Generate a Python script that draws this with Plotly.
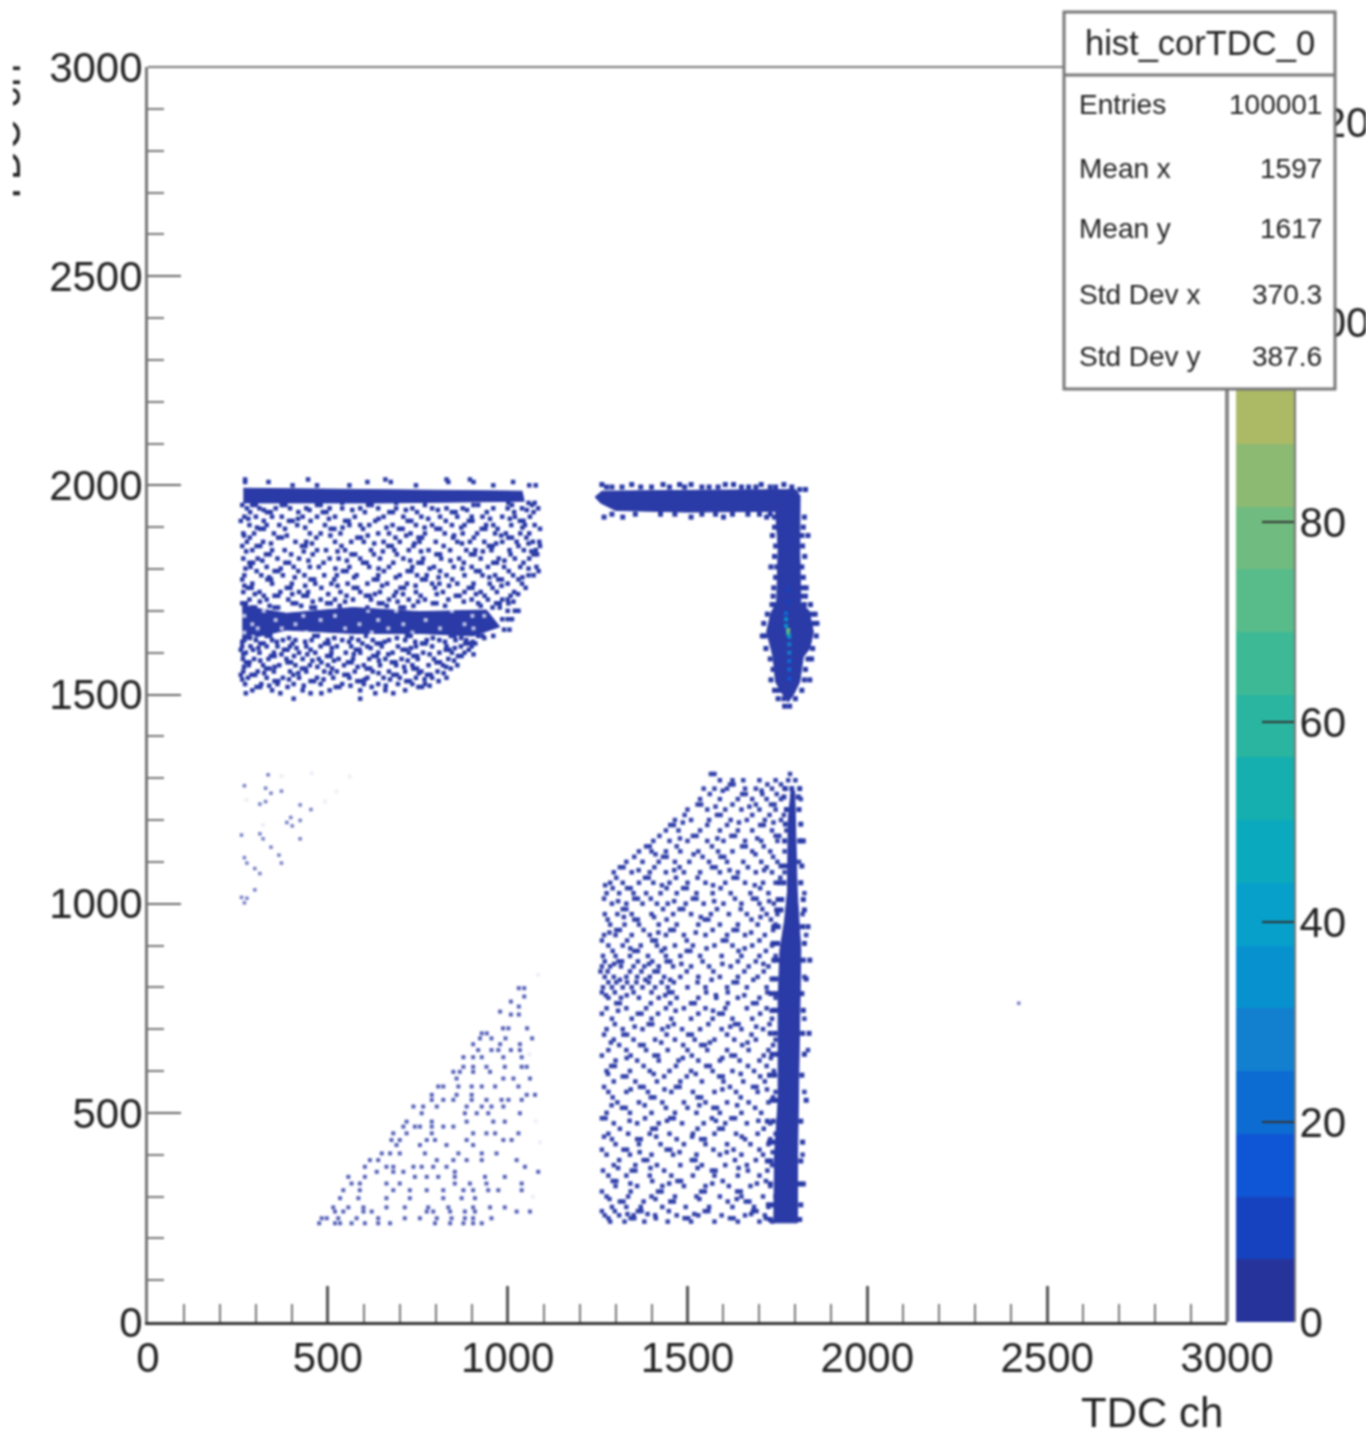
import plotly.graph_objects as go

W, H = 1366, 1432
def px(v): return v / W
def py(v): return 1 - v / H

x_ticks = [0, 500, 1000, 1500, 2000, 2500, 3000]
y_ticks = [0, 500, 1000, 1500, 2000, 2500, 3000]
z_ticks = [0, 20, 40, 60, 80, 100, 120]
cbar_edges = [0, 6.3, 12.5, 18.8, 25.1, 31.4, 37.6, 43.9, 50.2, 56.5, 62.7, 69, 75.3, 81.5, 87.8, 94.1, 100.4, 106.6, 112.9, 119.2, 125.5]
palette = ["#26339b", "#1642c0", "#0f56d6", "#0c6cd2", "#1280cf", "#0792cf", "#06a0cb", "#0ba9bd", "#14afae", "#2ab5a0",
           "#3eb995", "#58bb8a", "#70bb7f", "#8dba73", "#acba66", "#cab557", "#e2b545", "#f2c334", "#f7dc22", "#f9f70f"]

band_top_x = [265, 650, 1040, 1046, 650, 265]
band_top_y = [1993, 1990, 1986, 1962, 1958, 1958]
band_mid_x = [262, 385, 571, 756, 941, 978, 904, 756, 571, 385, 262]
band_mid_y = [1712, 1694, 1708, 1698, 1702, 1662, 1640, 1646, 1646, 1654, 1630]
corner_x = [1243, 1262, 1500, 1800, 1813, 1812, 1815, 1838, 1850, 1840, 1822, 1812, 1795, 1780, 1765, 1745, 1738, 1728, 1720, 1732, 1748, 1752, 1745, 1500, 1300, 1258, 1243]
corner_y = [1972, 1986, 1988, 1990, 1975, 1850, 1720, 1700, 1650, 1610, 1590, 1530, 1500, 1482, 1500, 1530, 1590, 1620, 1650, 1695, 1720, 1850, 1938, 1936, 1940, 1958, 1972]
stem_x = [1788, 1780, 1778, 1770, 1757, 1752, 1752, 1742, 1740, 1806, 1806, 1808, 1812, 1815, 1810, 1805, 1800, 1798]
stem_y = [1270, 1200, 1030, 960, 890, 770, 531, 400, 237, 237, 400, 531, 770, 890, 960, 1030, 1200, 1270]

core_x = [1780, 1780, 1774, 1774, 1774, 1780, 1780, 1783, 1783, 1783, 1783, 1783, 1783]
core_y = [1750, 1722, 1694, 1680, 1664, 1654, 1646, 1638, 1620, 1600, 1580, 1560, 1538]
core_level = [1, 1, 3, 5, 5, 12, 10, 5, 4, 4, 3, 3, 2]

band_hole_rows = [
 (1700, [322, 612, 690, 845]), (1688, [268, 432, 520, 902, 935]), (1678, [355, 480, 640, 772]), (1668, [290, 410, 588, 710, 880]),
 (1658, [305, 372, 548, 668, 812, 905]), (1648, [268, 440, 622, 735]), (1638, [292, 345]),
]
upper_left_rows = [
 (2008, [270, 335, 610, 675, 835, 905, 1015]),
 (2000, [402, 470, 560, 745, 960, 1060, 1078]),
 (1945, [275, 310, 355, 395, 440, 505, 540, 590, 640, 690, 735, 790, 830, 875, 960, 1000, 1040, 1085]),
 (1925, [268, 300, 345, 372, 430, 470, 520, 575, 655, 710, 760, 812, 860, 900, 930, 985, 1020, 1062]),
 (1905, [282, 330, 365, 415, 492, 560, 590, 615, 680, 745, 790, 845, 880, 940, 960, 1010, 1048, 1075]),
 (1885, [265, 295, 350, 450, 480, 535, 640, 670, 730, 770, 825, 875, 915, 965, 995, 1035, 1060]),
 (1865, [275, 320, 410, 440, 520, 565, 600, 655, 700, 755, 800, 860, 895, 935, 985, 1025, 1070, 1088]),
 (1845, [290, 345, 380, 470, 495, 548, 620, 685, 725, 780, 840, 885, 910, 955, 1005, 1045, 1078]),
 (1825, [265, 305, 360, 420, 505, 530, 590, 645, 710, 765, 815, 865, 925, 975, 1020, 1060]),
 (1805, [285, 330, 405, 450, 475, 560, 615, 670, 735, 795, 850, 900, 945, 990, 1035, 1080]),
 (1785, [268, 315, 375, 435, 490, 525, 580, 640, 700, 748, 775, 830, 880, 930, 965, 1015, 1058, 1072]),
 (1765, [290, 345, 400, 465, 510, 555, 610, 665, 720, 790, 810, 860, 905, 950, 1000, 1040]),
 (1745, [265, 310, 368, 420, 445, 535, 590, 645, 690, 745, 820, 880, 925, 970, 1018]),
 (1727, [282, 330, 390, 480, 520, 570, 620, 670, 725, 770, 835, 900, 945, 985, 1000]),
 (1630, [268, 300, 345, 375, 410, 455, 500, 540, 585, 625, 670, 715, 775, 810, 855, 885]),
 (1615, [262, 285, 330, 360, 395, 440, 480, 525, 565, 610, 650, 695, 745, 790, 830, 870, 900]),
 (1600, [272, 310, 350, 420, 465, 510, 550, 590, 640, 680, 725, 765, 810, 845, 880]),
 (1585, [264, 295, 335, 385, 430, 475, 530, 570, 615, 660, 705, 750, 795, 835]),
 (1570, [280, 320, 365, 410, 450, 500, 545, 600, 645, 690, 735, 780, 820, 860]),
 (1555, [265, 305, 350, 395, 440, 490, 525, 575, 625, 670, 715, 760, 805]),
 (1540, [278, 330, 375, 420, 470, 515, 560, 610, 655, 700, 745, 790, 830]),
 (1525, [270, 315, 360, 405, 480, 540, 600, 640, 695, 735, 770]),
 (1510, [290, 345, 430, 505, 590, 660, 715]),
 (1490, [405, 590]),
]
upper_left_extra_rows = [
 (1953, [262, 290, 300, 372, 382, 470, 480, 612, 622, 770, 905, 918, 1012, 1068]),
 (1936, [284, 331, 341, 418, 486, 496, 603, 671, 681, 748, 845, 855, 942, 1018, 1072]),
 (1915, [258, 322, 392, 402, 452, 548, 558, 632, 722, 732, 828, 892, 902, 1034, 1044]),
 (1896, [312, 322, 381, 508, 518, 598, 698, 708, 802, 812, 928, 938, 972, 1090]),
 (1875, [283, 362, 372, 468, 582, 592, 688, 752, 762, 848, 906, 1002, 1012, 1052]),
 (1855, [262, 302, 312, 428, 438, 538, 668, 678, 738, 822, 948, 958, 1030, 1090]),
 (1835, [328, 338, 398, 458, 566, 576, 628, 692, 802, 812, 898, 908, 1008, 1072, 1082]),
 (1815, [282, 292, 382, 392, 488, 598, 608, 682, 752, 762, 878, 960, 970, 1044]),
 (1795, [302, 352, 362, 418, 542, 552, 656, 722, 732, 812, 912, 922, 1003, 1086]),
 (1775, [262, 332, 342, 452, 462, 518, 628, 638, 762, 772, 846, 974, 984, 1030]),
 (1755, [278, 288, 386, 396, 482, 572, 582, 702, 712, 798, 892, 902, 958, 1050]),
 (1736, [322, 352, 362, 432, 442, 552, 606, 616, 684, 758, 856, 866, 936, 1008]),
 (1718, [262, 272, 402, 412, 498, 508, 642, 652, 792, 802, 918, 968, 978, 1002]),
 (1708, [288, 298, 352, 362, 454, 464, 610, 702, 712, 958, 978]),
 (1640, [330, 340, 462, 472, 606, 720, 730, 842, 852, 918, 930, 960]),
 (1622, [312, 322, 402, 492, 502, 596, 636, 646, 762, 772, 882, 892, 910]),
 (1607, [258, 292, 378, 388, 452, 578, 588, 708, 718, 828, 838, 892]),
 (1592, [342, 352, 406, 498, 508, 626, 636, 738, 748, 862, 872]),
 (1577, [272, 282, 388, 398, 482, 556, 566, 678, 688, 802, 812]),
 (1562, [328, 338, 428, 438, 512, 608, 618, 738, 748, 842]),
 (1547, [258, 288, 298, 404, 546, 556, 682, 692, 776, 786]),
 (1532, [352, 362, 452, 462, 582, 592, 718, 728, 808]),
 (1518, [302, 312, 388, 522, 532, 622, 752, 762]),
 (1503, [272, 368, 452, 482, 632, 682]),
]
upper_left_third_rows = [
 (1941, [322, 449, 568, 717, 806, 887, 1053]),
 (1920, [279, 417, 503, 641, 779, 951, 1006]),
 (1899, [303, 437, 541, 663, 769, 871, 1041]),
 (1880, [267, 386, 507, 611, 718, 851, 982]),
 (1861, [342, 456, 629, 741, 873, 968, 1058]),
 (1842, [273, 433, 527, 653, 759, 931, 1066]),
 (1820, [318, 446, 553, 729, 841, 991]),
 (1801, [271, 369, 521, 641, 783, 874, 1058]),
 (1780, [337, 408, 573, 689, 808, 949, 1041]),
 (1760, [268, 437, 527, 651, 744, 837, 983]),
 (1740, [297, 401, 501, 631, 709, 803, 912, 1029]),
 (1722, [311, 458, 548, 694, 751, 878, 1016]),
 (1712, [272, 338, 426, 533, 664, 738, 826, 925]),
 (1635, [283, 392, 518, 566, 692, 792, 871, 935]),
 (1626, [262, 358, 437, 559, 658, 743, 826, 903]),
 (1611, [307, 413, 511, 619, 731, 853]),
 (1596, [265, 371, 443, 572, 668, 783, 905]),
 (1581, [312, 457, 517, 642, 722, 851]),
 (1566, [267, 352, 471, 583, 712, 829]),
 (1551, [323, 418, 507, 641, 753, 822]),
 (1536, [262, 392, 488, 603, 673, 769]),
 (1521, [337, 433, 563, 661, 783]),
]
band_fringe_rows = [
 (2014, [270, 445, 660, 830, 895]),
 (1958, [540, 690, 1002, 1058, 1075]),
 (1655, [990, 1005]),
 (1680, [985, 1000, 1012]),
 (1700, [1000, 1020, 1030]),
]
corner_fringe_rows = [
 (2002, [1262, 1345, 1432, 1478, 1510, 1605, 1628, 1705, 1768]),
 (1996, [1275, 1290, 1318, 1370, 1400, 1450, 1492, 1540, 1560, 1585, 1650, 1670, 1690, 1730, 1745, 1790]),
 (1990, [1812, 1828]),
 (1931, [1290, 1355, 1425, 1465, 1540, 1578, 1625, 1668, 1700, 1730, 1760]),
 (1924, [1268, 1320, 1510, 1600, 1720, 1742, 1825]),
 (1900, [1742, 1822]),
 (1880, [1736, 1818, 1835]),
 (1855, [1745, 1820]),
 (1830, [1742, 1826]),
 (1805, [1732, 1748, 1818]),
 (1780, [1745, 1822]),
 (1755, [1740, 1820, 1830]),
 (1735, [1738, 1815, 1828]),
 (1715, [1735, 1745, 1825, 1842]),
 (1692, [1722, 1845, 1855]),
 (1670, [1712, 1852, 1860]),
 (1640, [1708, 1716, 1858]),
 (1610, [1718, 1848]),
 (1585, [1730, 1835, 1845]),
 (1560, [1738, 1828]),
 (1535, [1732, 1825, 1840]),
 (1510, [1742, 1755, 1818]),
 (1490, [1752, 1768, 1800]),
 (1472, [1770, 1784]),
 (1275, [1772, 1790, 1812]),
 (1255, [1768, 1808]),
 (1225, [1775, 1810]),
 (1190, [1772, 1815]),
 (1150, [1770, 1812, 1822]),
 (1090, [1760, 1772, 1818]),
 (1050, [1755, 1768, 1815]),
 (1010, [1752, 1762, 1822]),
 (985, [1748, 1760, 1825]),
 (945, [1740, 1752, 1820, 1835]),
 (905, [1738, 1750, 1825]),
 (865, [1740, 1748, 1822, 1840]),
 (820, [1735, 1746, 1830]),
 (785, [1732, 1745, 1818]),
 (745, [1738, 1746, 1822]),
 (690, [1730, 1744, 1820, 1838]),
 (640, [1735, 1748, 1825]),
 (590, [1728, 1742, 1818]),
 (530, [1735, 1745, 1830]),
 (480, [1722, 1738, 1815]),
 (430, [1728, 1738, 1820]),
 (385, [1722, 1732, 1815]),
 (330, [1730, 1812, 1822]),
 (280, [1725, 1735, 1815]),
 (245, [1730, 1812]),
]
lower_right_rows = [
 (1310, [1565, 1575, 1785]),
 (1295, [1590, 1625, 1655, 1700, 1745, 1780, 1800]),
 (1275, [1545, 1575, 1610, 1660, 1690, 1735, 1770]),
 (1250, [1535, 1590, 1640, 1680, 1720, 1760, 1815]),
 (1225, [1500, 1555, 1605, 1650, 1700, 1745, 1775]),
 (1200, [1465, 1510, 1560, 1620, 1665, 1715, 1760]),
 (1175, [1440, 1475, 1535, 1590, 1640, 1680, 1735, 1775]),
 (1150, [1405, 1450, 1500, 1555, 1600, 1660, 1705, 1750, 1815]),
 (1125, [1365, 1400, 1440, 1480, 1530, 1585, 1625, 1680, 1730, 1770]),
 (1100, [1330, 1375, 1420, 1465, 1505, 1560, 1610, 1655, 1705, 1750, 1810]),
 (1075, [1295, 1345, 1395, 1440, 1490, 1535, 1590, 1640, 1690, 1735, 1770]),
 (1050, [1285, 1320, 1365, 1405, 1450, 1500, 1550, 1605, 1660, 1710, 1745]),
 (1025, [1275, 1310, 1350, 1385, 1425, 1470, 1525, 1570, 1620, 1675, 1725, 1825]),
 (1000, [1290, 1330, 1375, 1415, 1445, 1495, 1545, 1600, 1650, 1700, 1740]),
 (975, [1270, 1305, 1345, 1400, 1460, 1510, 1565, 1615, 1665, 1720, 1750, 1820]),
 (950, [1285, 1325, 1365, 1420, 1470, 1530, 1590, 1640, 1695, 1745]),
 (925, [1268, 1300, 1345, 1395, 1440, 1490, 1550, 1610, 1660, 1715, 1830]),
 (900, [1280, 1320, 1370, 1415, 1465, 1515, 1575, 1625, 1680, 1735]),
 (875, [1265, 1300, 1340, 1390, 1440, 1480, 1535, 1595, 1650, 1700, 1745]),
 (850, [1262, 1285, 1315, 1350, 1380, 1420, 1460, 1510, 1560, 1620, 1670, 1725]),
 (825, [1270, 1295, 1330, 1360, 1395, 1435, 1480, 1530, 1590, 1640, 1695, 1825]),
 (800, [1265, 1290, 1320, 1345, 1375, 1410, 1445, 1500, 1550, 1610, 1665, 1720]),
 (775, [1280, 1315, 1365, 1420, 1470, 1530, 1580, 1640, 1700, 1745]),
 (750, [1275, 1330, 1385, 1440, 1490, 1550, 1605, 1665, 1720]),
 (725, [1290, 1345, 1400, 1455, 1510, 1570, 1625, 1680, 1735, 1825]),
 (700, [1275, 1320, 1375, 1430, 1485, 1535, 1595, 1650, 1710]),
 (675, [1295, 1350, 1410, 1465, 1520, 1575, 1630, 1690, 1745]),
 (650, [1280, 1330, 1385, 1445, 1500, 1555, 1610, 1670, 1725, 1835]),
 (625, [1300, 1360, 1420, 1475, 1530, 1590, 1645, 1700]),
 (600, [1275, 1340, 1395, 1450, 1510, 1570, 1625, 1685, 1740]),
 (575, [1295, 1355, 1415, 1480, 1540, 1600, 1655, 1715]),
 (550, [1280, 1330, 1390, 1455, 1515, 1575, 1635, 1695, 1745, 1825]),
 (525, [1305, 1365, 1430, 1490, 1550, 1610, 1670, 1725]),
 (500, [1275, 1340, 1400, 1465, 1525, 1590, 1650, 1705]),
 (475, [1295, 1360, 1420, 1485, 1545, 1605, 1665, 1730]),
 (450, [1280, 1335, 1395, 1450, 1515, 1575, 1635, 1695, 1745]),
 (425, [1300, 1365, 1425, 1490, 1550, 1610, 1675, 1725]),
 (400, [1275, 1340, 1400, 1460, 1525, 1590, 1650, 1710, 1820]),
 (375, [1295, 1355, 1415, 1480, 1540, 1605, 1665, 1735]),
 (350, [1280, 1330, 1395, 1455, 1515, 1575, 1640, 1700]),
 (325, [1300, 1360, 1430, 1490, 1550, 1615, 1675, 1730]),
 (300, [1275, 1335, 1400, 1465, 1525, 1590, 1650, 1710, 1745]),
 (275, [1290, 1330, 1370, 1430, 1495, 1560, 1625, 1685, 1725]),
 (255, [1270, 1310, 1350, 1410, 1470, 1530, 1595, 1660, 1715]),
 (240, [1285, 1325, 1380, 1445, 1510, 1575, 1640, 1700, 1735]),
]
lower_right_extra_rows = [
 (1285, [1618, 1628, 1722, 1760]),
 (1262, [1562, 1652, 1662, 1708, 1748]),
 (1237, [1528, 1538, 1625, 1690, 1732, 1742]),
 (1212, [1492, 1582, 1592, 1680, 1728, 1768]),
 (1188, [1452, 1462, 1555, 1610, 1702, 1712]),
 (1162, [1422, 1515, 1525, 1622, 1632, 1745, 1755]),
 (1137, [1385, 1395, 1470, 1568, 1652, 1662, 1712]),
 (1112, [1352, 1432, 1442, 1542, 1592, 1602, 1738]),
 (1087, [1312, 1322, 1408, 1478, 1568, 1578, 1668, 1720]),
 (1062, [1302, 1382, 1392, 1468, 1528, 1628, 1638, 1758]),
 (1037, [1292, 1332, 1342, 1442, 1488, 1498, 1592, 1702]),
 (1012, [1268, 1352, 1362, 1398, 1515, 1525, 1632, 1682, 1692]),
 (987, [1320, 1330, 1432, 1478, 1488, 1582, 1648, 1708]),
 (962, [1278, 1352, 1362, 1442, 1548, 1558, 1678, 1732]),
 (937, [1302, 1312, 1378, 1452, 1462, 1570, 1628, 1638, 1738]),
 (912, [1262, 1332, 1402, 1412, 1498, 1598, 1608, 1700]),
 (887, [1292, 1352, 1362, 1428, 1498, 1508, 1642, 1718]),
 (862, [1270, 1308, 1318, 1362, 1402, 1442, 1452, 1542, 1640, 1690]),
 (838, [1258, 1278, 1340, 1372, 1408, 1418, 1498, 1572, 1658, 1712]),
 (812, [1280, 1302, 1332, 1358, 1392, 1428, 1462, 1528, 1628, 1638]),
 (788, [1262, 1298, 1350, 1400, 1448, 1458, 1552, 1612, 1722]),
 (762, [1302, 1312, 1398, 1452, 1510, 1520, 1612, 1682, 1692]),
 (737, [1262, 1362, 1372, 1418, 1530, 1588, 1598, 1702]),
 (712, [1298, 1392, 1402, 1462, 1558, 1632, 1642, 1728]),
 (687, [1268, 1322, 1332, 1442, 1502, 1512, 1610, 1678]),
 (662, [1310, 1368, 1378, 1488, 1538, 1548, 1652, 1738]),
 (637, [1262, 1342, 1408, 1418, 1512, 1622, 1632, 1712]),
 (612, [1288, 1298, 1378, 1468, 1552, 1562, 1668, 1720]),
 (587, [1320, 1330, 1435, 1498, 1588, 1598, 1702]),
 (562, [1268, 1368, 1378, 1468, 1478, 1618, 1682, 1692]),
 (537, [1292, 1398, 1408, 1528, 1538, 1648, 1738]),
 (512, [1318, 1328, 1440, 1500, 1572, 1582, 1688]),
 (487, [1262, 1272, 1382, 1452, 1462, 1568, 1622, 1632]),
 (462, [1312, 1402, 1412, 1528, 1588, 1598, 1712]),
 (437, [1290, 1360, 1370, 1470, 1538, 1548, 1660, 1730]),
 (412, [1262, 1322, 1332, 1442, 1452, 1572, 1628, 1700]),
 (387, [1310, 1378, 1388, 1512, 1522, 1632, 1690]),
 (362, [1265, 1345, 1355, 1435, 1568, 1578, 1668, 1722]),
 (337, [1292, 1302, 1402, 1472, 1482, 1598, 1718]),
 (312, [1262, 1342, 1418, 1428, 1538, 1548, 1638, 1648]),
 (288, [1312, 1322, 1378, 1452, 1462, 1612, 1662, 1672]),
 (265, [1262, 1298, 1362, 1372, 1448, 1548, 1558, 1682, 1692]),
 (248, [1280, 1342, 1352, 1412, 1492, 1502, 1618, 1628, 1718]),
]
lower_right_third_rows = [
 (1270, [1598, 1706]), (1232, [1578, 1672]), (1194, [1487, 1643, 1739]), (1156, [1479, 1583, 1694]),
 (1118, [1411, 1517, 1689]), (1080, [1364, 1463, 1617, 1713]), (1044, [1271, 1429, 1571, 1687]),
 (1006, [1307, 1463, 1574, 1727]), (968, [1323, 1407, 1537, 1703]), (931, [1283, 1419, 1523, 1677]),
 (893, [1341, 1437, 1553, 1659]), (856, [1296, 1393, 1483, 1597, 1711]), (818, [1312, 1383, 1452, 1567, 1683]),
 (781, [1273, 1331, 1438, 1579, 1658]), (744, [1307, 1467, 1571, 1734]), (706, [1353, 1446, 1619, 1691]),
 (668, [1287, 1427, 1562, 1667]), (631, [1331, 1487, 1597, 1732]), (593, [1279, 1406, 1523, 1648]),
 (556, [1342, 1436, 1597, 1721]), (518, [1289, 1381, 1533, 1638]), (481, [1339, 1443, 1579, 1697]),
 (443, [1268, 1413, 1513, 1651]), (406, [1367, 1478, 1609, 1737]), (368, [1307, 1397, 1528, 1642]),
 (331, [1341, 1449, 1569, 1693]), (294, [1283, 1411, 1533, 1637]), (258, [1333, 1389, 1519, 1677]),
]
triangle_rows = [
 (798, [1031, 1046]), (778, [1046]), (766, [1009]), (754, [1031]), (742, [979]), (735, [1009, 1031]),
 (702, [987, 1002, 1054]), (690, [928, 942]), (678, [923, 955, 994, 1068]), (664, [904, 979, 1034]),
 (650, [918, 955, 974, 1009, 1034]), (633, [877, 904, 928, 988, 1039]), (610, [877, 904, 941, 992, 1039, 1053]),
 (598, [849, 867, 904, 951]), (582, [858, 988, 1016, 1062]), (563, [807, 821, 863, 900, 928, 965, 1030]),
 (543, [789, 858, 900, 1053, 1076]), (531, [789, 821, 849, 900, 941, 983, 1002, 1039]),
 (515, [738, 765, 803, 886, 928, 955, 988]), (499, [761, 881, 914, 946, 1034]), (479, [719, 789, 886, 960, 992]),
 (467, [710, 742, 756, 789, 821, 849]), (451, [682, 719, 789, 904, 941, 965, 1030]),
 (435, [677, 700, 775, 798, 886, 988, 1011]), (423, [691, 756, 830, 904]), (403, [650, 673, 700, 770, 863, 928, 969]),
 (387, [617, 640, 803, 849, 886, 928, 1025]), (371, [603, 663, 682, 738, 761, 793, 830, 1048]),
 (359, [636, 682, 710, 853, 1085]), (347, [557, 603, 742, 775, 807, 853, 937, 992]),
 (331, [566, 589, 663, 700, 853, 895, 941, 1039]), (315, [543, 589, 682, 728, 775, 821, 877, 904, 946, 974, 1039]),
 (296, [534, 585, 663, 728, 821, 872, 909]), (274, [515, 557, 599, 663, 714, 779, 835, 904, 951, 992]),
 (264, [520, 543, 599, 622, 775, 793, 840, 881, 909, 1025, 1062]),
 (248, [483, 497, 529, 580, 640, 714, 756, 803, 844, 881, 904, 955]),
 (236, [476, 520, 534, 566, 603, 640, 673, 798, 840, 877, 904, 928]),
]
faint_x = [334, 268, 327, 342, 371, 327, 311, 423, 453, 397, 423, 386, 401, 260, 311, 320, 423, 342, 364, 268, 275, 371, 297, 311, 297, 260, 275, 268, 2421]
faint_y = [1308, 1282, 1276, 1264, 1269, 1244, 1238, 1236, 1225, 1206, 1199, 1194, 1186, 1164, 1167, 1155, 1155, 1135, 1116, 1110, 1097, 1097, 1084, 1072, 1033, 1015, 1013, 1002, 762]
ghost_x = [455, 561, 524, 492, 371, 274, 320, 1085, 1060, 1078, 1090, 1070]
ghost_y = [1312, 1304, 1268, 1244, 1305, 1248, 1188, 830, 640, 480, 430, 300]

stats_title = "hist_corTDC_0"
stats_names = ["Entries", "Mean x", "Mean y", "Std Dev x", "Std Dev y"]
stats_values = ["100001", "1597", "1617", "370.3", "387.6"]
axis_title = "TDC ch"

BLUE = "#2a3aa6"
def flat(rows):
    xs, ys = [], []
    for y, row in rows:
        xs += row
        ys += [y] * len(row)
    return xs, ys

fig = go.Figure()
for xs, ys in [(band_top_x, band_top_y), (band_mid_x, band_mid_y), (corner_x, corner_y), (stem_x, stem_y)]:
    fig.add_trace(go.Scatter(x=xs, y=ys, mode="lines", fill="toself", fillcolor=BLUE, line=dict(color=BLUE, width=1), hoverinfo="skip"))
xs, ys = flat(band_hole_rows)
fig.add_trace(go.Scatter(x=xs, y=ys, mode="markers", marker=dict(symbol="square", size=4, color="white", opacity=0.7, line_width=0), hoverinfo="skip"))
for rows, size, op in [(upper_left_rows + upper_left_extra_rows + upper_left_third_rows + band_fringe_rows, 4.5, 1),
                       (corner_fringe_rows, 5, 1),
                       (lower_right_rows + lower_right_extra_rows + lower_right_third_rows, 4.5, 0.95),
                       (triangle_rows, 4, 0.8)]:
    xs, ys = flat(rows)
    fig.add_trace(go.Scatter(x=xs, y=ys, mode="markers", marker=dict(symbol="square", size=size, color=BLUE, opacity=op, line_width=0), hoverinfo="skip"))
fig.add_trace(go.Scatter(x=faint_x, y=faint_y, mode="markers", marker=dict(symbol="square", size=3.5, color=BLUE, opacity=0.65, line_width=0), hoverinfo="skip"))
fig.add_trace(go.Scatter(x=ghost_x, y=ghost_y, mode="markers", marker=dict(symbol="square", size=4, color=BLUE, opacity=0.08, line_width=0), hoverinfo="skip"))
fig.add_trace(go.Scatter(x=core_x, y=core_y, mode="markers", marker=dict(symbol="square", size=4, color=[palette[i] for i in core_level], line_width=0), hoverinfo="skip"))

fig.add_trace(go.Heatmap(x=[0, 1], y=cbar_edges, z=[[i] for i in range(len(palette))], xaxis="x2", yaxis="y2",
                         zmin=0, zmax=len(palette) - 1, showscale=False, hoverinfo="skip",
                         colorscale=[[i / (len(palette) - 1), c] for i, c in enumerate(palette)]))

FONT = "Liberation Sans"
TXT = "#222222"
def axis(ticks, maj, mino, **kw):
    return dict(range=[0, 3000], tickvals=ticks, ticks="inside", ticklen=maj, showgrid=False, zeroline=False,
                automargin=False,
                minor=dict(dtick=100, tick0=0, ticks="inside", ticklen=mino, tickwidth=2, tickcolor="#777", showgrid=False),
                tickfont=dict(family=FONT, size=42, color=TXT), showline=True, **kw)

fig.update_layout(
    template="none",
    width=W, height=H, margin=dict(l=0, r=0, t=0, b=0, pad=0), autosize=False, showlegend=False,
    paper_bgcolor="white", plot_bgcolor="white",
    xaxis=axis(x_ticks, 36, 18, domain=[px(148), px(1227)], anchor="y", linecolor="#333", linewidth=3, tickcolor="#555", tickwidth=3, ticklabelstandoff=-3),
    yaxis=axis(y_ticks, 33, 16, domain=[py(1322), py(67)], anchor="x", linecolor="#777", linewidth=3, tickcolor="#666", tickwidth=2, ticklabelstandoff=-6),
    xaxis2=dict(domain=[px(1236), px(1294)], range=[0, 1], anchor="y2", visible=False),
    yaxis2=dict(domain=[py(1322), py(67)], range=[0, 125.5], anchor="x2", side="right", tickvals=z_ticks, ticks="inside", ticklen=32,
                automargin=False, tickwidth=2, tickcolor="#333", showgrid=False, zeroline=False, showline=True, linecolor="#777", linewidth=2,
                tickfont=dict(family=FONT, size=42, color=TXT), ticklabelstandoff=-5),
)
fig.add_shape(type="line", xref="paper", yref="paper", x0=px(148), x1=px(1064), y0=py(67), y1=py(67), line=dict(color="#777", width=2), layer="above")
fig.add_shape(type="line", xref="paper", yref="paper", x0=px(1227), x1=px(1227), y0=py(1322), y1=py(67), line=dict(color="#888", width=4), layer="above")
fig.add_shape(type="rect", xref="paper", yref="paper", x0=px(1064), x1=px(1335), y0=py(389), y1=py(12), fillcolor="white", line=dict(color="#777", width=3), layer="above")
fig.add_shape(type="line", xref="paper", yref="paper", x0=px(1064), x1=px(1335), y0=py(75), y1=py(75), line=dict(color="#777", width=3), layer="above")

def note(text, x, y, size, anchor="center", angle=0):
    fig.add_annotation(text=text, xref="paper", yref="paper", x=px(x), y=py(y), xanchor=anchor, yanchor="middle", showarrow=False,
                       textangle=angle, font=dict(family=FONT, size=size, color=TXT))

note(stats_title, 1200, 43, 34.5)
for name, value, y in zip(stats_names, stats_values, [105, 169, 229, 294, 356]):
    note(name, 1077, y, 28, "left")
    note(value, 1324, y, 28, "right")
note(axis_title, 1225, 1412, 42, "right")
note(axis_title, 6, 135, 42, "center", -90)
fig.add_annotation(text=" ", xref="paper", yref="paper", x=0, y=py(135), xanchor="left", yanchor="middle", showarrow=False,
                   width=13, height=180, bgcolor="white", borderpad=0, borderwidth=0, font=dict(size=10))

fig.write_html("out.html", config=dict(displayModeBar=False),
               post_script="document.body.style.margin='0';document.body.style.overflow='hidden';"
               "document.querySelector('.plot-container').style.filter='blur(0.9px)';")
